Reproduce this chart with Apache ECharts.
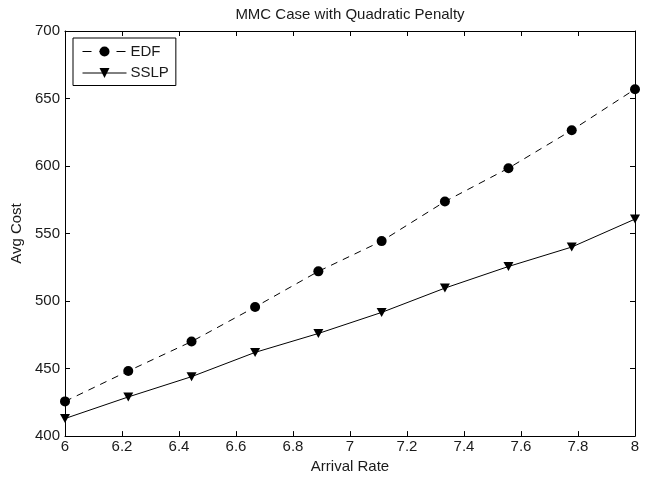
<!DOCTYPE html>
<html>
<head>
<meta charset="utf-8">
<script src="https://cdn.jsdelivr.net/npm/echarts@6/dist/echarts.min.js"></script>
<style>html,body{margin:0;padding:0;background:#fff}#c{width:647px;height:479px}</style>
</head>
<body>
<div id="c"></div>
<script>
const titleText = 'MMC Case with Quadratic Penalty';
const xName = 'Arrival Rate';
const yName = 'Avg Cost';
const seriesNames = ['EDF', 'SSLP'];
const xValues = [6, 6.222, 6.444, 6.667, 6.889, 7.111, 7.333, 7.556, 7.778, 8];
const edf = [425.7, 448.2, 470, 495.6, 522, 544.4, 573.7, 598.4, 626.5, 656.9];
const sslp = [413, 429, 444, 462, 476, 491.6, 509.6, 525.6, 540, 560.7];

const FONT = 'Liberation Sans, Arial, Helvetica, sans-serif';
const TXT = '#1a1a1a';
const pair = (ys) => xValues.map((x, i) => [x, ys[i]]);
const fmtX = v => String(parseFloat(v.toFixed(1)));

const chart = echarts.init(document.getElementById('c'), null, {renderer: 'canvas'});
const axisCommon = {
  axisLine: {show: true, onZero: false, lineStyle: {color: '#000', width: 1}},
  axisTick: {show: true, inside: true, length: 5, lineStyle: {color: '#000', width: 1}},
  splitLine: {show: false}
};
chart.setOption({
  animation: false,
  backgroundColor: '#fff',
  title: {
    text: titleText, left: 350, textAlign: 'center', top: 7, padding: 0,
    textStyle: {fontFamily: FONT, fontSize: 15, fontWeight: 'normal', color: TXT}
  },
  legend: {
    orient: 'vertical', left: 73, top: 38,
    padding: [6, 7, 5, 9],
    itemWidth: 44, itemHeight: 12.5, itemGap: 6.5,
    borderColor: '#000', borderWidth: 1, backgroundColor: '#fff',
    textStyle: {fontFamily: FONT, fontSize: 15, color: TXT, padding: [0, 0, 0, -1]},
    lineStyle: {width: 1},
    data: [
      {name: seriesNames[0], lineStyle: {width: 1, type: [9, 8]}},
      {name: seriesNames[1], lineStyle: {width: 1}}
    ]
  },
  grid: {left: 65, right: 12, top: 31, bottom: 42},
  xAxis: [
    Object.assign({
      type: 'value', min: 6, max: 8, interval: 0.2, position: 'bottom',
      name: xName, nameLocation: 'middle', nameGap: 15,
      nameTextStyle: {fontFamily: FONT, fontSize: 15, color: TXT},
      axisLabel: {margin: 3, fontFamily: FONT, fontSize: 15, color: TXT, formatter: fmtX}
    }, axisCommon),
    Object.assign({
      type: 'value', min: 6, max: 8, interval: 0.2, position: 'top',
      axisLabel: {show: false}
    }, axisCommon)
  ],
  yAxis: [
    Object.assign({
      type: 'value', min: 400, max: 700, interval: 50, position: 'left',
      name: yName, nameLocation: 'middle', nameGap: 30,
      nameTextStyle: {fontFamily: FONT, fontSize: 15, color: TXT},
      axisLabel: {margin: 5, fontFamily: FONT, fontSize: 15, color: TXT}
    }, axisCommon),
    Object.assign({
      type: 'value', min: 400, max: 700, interval: 50, position: 'right',
      axisLabel: {show: false}
    }, axisCommon)
  ],
  series: [
    {
      name: seriesNames[0], type: 'line', xAxisIndex: 0, yAxisIndex: 0,
      data: pair(edf), clip: false,
      symbol: 'circle', symbolSize: 10,
      lineStyle: {color: '#000', width: 1, type: [7, 6]},
      itemStyle: {color: '#000'}
    },
    {
      name: seriesNames[1], type: 'line', xAxisIndex: 0, yAxisIndex: 0,
      data: pair(sslp), clip: false,
      symbol: 'triangle', symbolRotate: 180, symbolSize: [10, 9],
      lineStyle: {color: '#000', width: 1},
      itemStyle: {color: '#000'}
    }
  ]
});
</script>
</body>
</html>
